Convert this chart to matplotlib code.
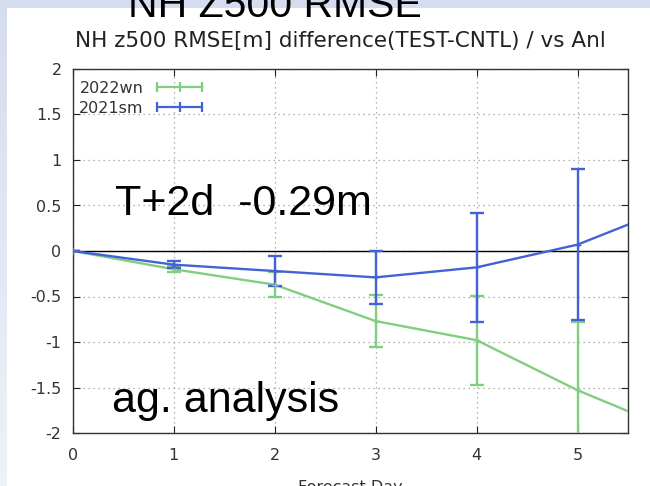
import numpy as np
import matplotlib.pyplot as plt
from matplotlib.lines import Line2D
from matplotlib.patches import Rectangle
from matplotlib.colors import LinearSegmentedColormap

# data (z500 RMSE difference, metres)
days = [0, 1, 2, 3, 4, 5, 6]
err_days = [0, 1, 2, 3, 4, 5]
wn_mean = [0.0, -0.20, -0.37, -0.77, -0.98, -1.53, -1.99]
wn_err = [0.0, 0.03, 0.14, 0.29, 0.49, 0.75]
sm_mean = [0.0, -0.15, -0.22, -0.29, -0.18, 0.07, 0.51]
sm_err = [0.0, 0.035, 0.16, 0.29, 0.60, 0.83]
names = ['2022wn', '2021sm']
xticks = [0, 1, 2, 3, 4, 5]
yticks = [-2, -1.5, -1, -0.5, 0, 0.5, 1, 1.5, 2]

# figure parameters
color = {'2022wn': '#80cf80', '2021sm': '#4462d6'}
W, H = 650, 486

fig = plt.figure(figsize=(W / 100, H / 100), dpi=100)

# slide background: bluish band on top/left, white panel
bg = fig.add_axes([0, 0, 1, 1])
bg.axis('off')
cmap = LinearSegmentedColormap.from_list('slide', ['#d4ddef', '#eef2f9'])
bg.imshow(np.linspace(0, 1, 256).reshape(-1, 1), cmap=cmap, aspect='auto',
          extent=[0, 1, 0, 1])
bg.add_patch(Rectangle((7 / W, 0), 1, 1 - 8 / H, facecolor='white',
                       edgecolor='none', transform=bg.transAxes))
bg.set_xlim(0, 1)
bg.set_ylim(0, 1)

fig.text(275 / W, 1 - 17 / H, 'NH Z500 RMSE', ha='center', va='baseline',
         fontsize=29.5, family='Liberation Sans', color='black')
fig.text(340 / W, 1 - 47 / H, 'NH z500 RMSE[m] difference(TEST-CNTL) / vs Anl',
         ha='center', va='baseline', fontsize=15.5, color='#222222')

ax = fig.add_axes([72.7 / W, 1 - 433 / H, (628 - 72.7) / W, (433 - 69) / H])
ax.set_facecolor('none')

series = [(names[0], wn_mean, wn_err), (names[1], sm_mean, sm_err)]
for name, mean, err in series:
    col = color[name]
    ax.plot(days, mean, color=col, lw=1.7, zorder=3)
    ax.errorbar(err_days, mean[:len(err_days)], yerr=err, fmt='+', color=col,
                ms=4, elinewidth=1.7, capsize=5, capthick=1.7, zorder=3)

ax.axhline(0, color='black', lw=1, zorder=2)

ax.set_xlim(0, 5.5)
ax.set_ylim(-2, 2)
ax.set_xticks(xticks)
ax.set_yticks(yticks)
ax.set_yticklabels(['%g' % v for v in yticks])
ax.grid(True, linestyle=(0, (1, 3)), color='#9a9a9a', lw=0.9)
ax.tick_params(direction='in', length=5, top=True, right=True,
               labelsize=11.5, labelcolor='#333333', color='#222222')
ax.tick_params(axis='x', pad=11)
ax.tick_params(axis='y', pad=8)
for s in ax.spines.values():
    s.set_color('#333333')
    s.set_linewidth(1)
ax.set_xlabel('Forecast Day', fontsize=11.5, color='#333333', labelpad=12)

handles = [Line2D([], [], color=color[n], lw=1.6, marker='|', ms=7, mew=1.6)
           for n in names]
ax.legend(handles, names, loc='upper left', bbox_to_anchor=(0, 0.985),
          frameon=False, fontsize=11.5, markerfirst=False, numpoints=3,
          handlelength=3.4, handletextpad=0.55, borderaxespad=0.2,
          borderpad=0.2, labelspacing=0.3, labelcolor='#333333')

fig.text(115 / W, 1 - 215 / H, 'T+2d  -0.29m', va='baseline', fontsize=31,
         family='Liberation Sans', color='black')
fig.text(112 / W, 1 - 412 / H, 'ag. analysis', va='baseline', fontsize=31,
         family='Liberation Sans', color='black')

fig.savefig('out.png', dpi=100)
